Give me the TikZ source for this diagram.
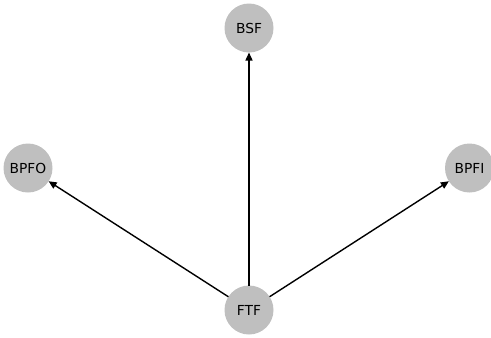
\documentclass[tikz,border=0pt]{standalone}
\usepackage{fontspec}
\setmainfont{DejaVu Sans}
\usetikzlibrary{arrows.meta}
\definecolor{nodegray}{HTML}{BFBFBF}
\begin{document}
\begin{tikzpicture}[x=1pt,y=-1pt,
  vertex/.style={circle,fill=nodegray,minimum size=49pt,inner sep=0pt,outer sep=0pt,font=\fontsize{13.8pt}{16pt}\selectfont},
  edge/.style={line width=1.4pt,-{Triangle[length=8pt,width=7pt]}}]
\useasboundingbox (0,0) rectangle (491,338);
\begin{scope}
\clip (0,0) rectangle (491,338);
\node[vertex] (bsf) at (249,28) {BSF};
\node[vertex] (bpfo) at (28,168) {BPFO};
\node[vertex] (bpfi) at (469.5,168) {BPFI};
\node[vertex] (ftf) at (249,310) {FTF};
\end{scope}
\draw[edge] (ftf) -- (bsf);
\draw[edge] (ftf) -- (bpfo);
\draw[edge] (ftf) -- (bpfi);
\end{tikzpicture}
\end{document}
